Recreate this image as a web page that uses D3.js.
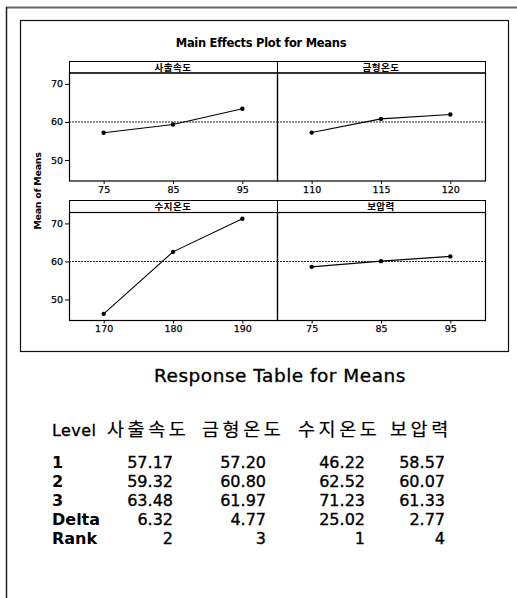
<!DOCTYPE html>
<html><head><meta charset="utf-8">
<script src="https://cdn.jsdelivr.net/npm/d3@7"></script>
<style>
html,body{margin:0;padding:0;background:#fff;}
svg{display:block;}
</style></head>
<body>
<svg id="c" width="517" height="598"></svg>
<script>
// ---- data ----
const chartTitle = "Main Effects Plot for Means";
const yLabel = "Mean of Means";
const tableTitle = "Response Table for Means";
const factors = ["사출속도", "금형온도", "수지온도", "보압력"];
const levels1 = [75, 85, 95];
const levels2 = [110, 115, 120];
const levels3 = [170, 180, 190];
const levels4 = [75, 85, 95];
const means1 = [57.17, 59.32, 63.48];
const means2 = [57.20, 60.80, 61.97];
const means3 = [46.22, 62.52, 71.23];
const means4 = [58.57, 60.07, 61.33];
const deltas = [6.32, 4.77, 25.02, 2.77];
const ranks = [2, 3, 1, 4];
const yTicks = [50, 60, 70];
const rowLabels = ["1", "2", "3", "Delta", "Rank"];

const levelSets = [levels1, levels2, levels3, levels4];
const meanSets = [means1, means2, means3, means4];

const svg = d3.select("#c");
const F = "'DejaVu Sans', Verdana, sans-serif";
const K = "'Noto Sans CJK KR', 'DejaVu Sans', sans-serif";

// outer frame
svg.append("line").attr("x1",6).attr("y1",7.5).attr("x2",517).attr("y2",7.5).attr("stroke","#666").attr("stroke-width",2);
svg.append("line").attr("x1",6.5).attr("y1",7).attr("x2",6.5).attr("y2",598).attr("stroke","#222").attr("stroke-width",1.5);

// chart frame
svg.append("rect").attr("x",20.5).attr("y",20.5).attr("width",488).attr("height",331)
  .attr("fill","#fff").attr("stroke","#111").attr("stroke-width",1.2);

svg.append("text").attr("x",261).attr("y",46.5).attr("text-anchor","middle")
  .attr("font-family",F).attr("font-weight","bold").attr("font-size",11.5).attr("letter-spacing",-0.3).text(chartTitle);

svg.append("text").attr("transform","translate(41,191) rotate(-90)").attr("text-anchor","middle")
  .attr("font-family",F).attr("font-weight","bold").attr("font-size",9.5).attr("letter-spacing",-0.3).text(yLabel);

const panelX = [69, 277, 69, 277];
const panelW = 208;
const rows = [{stripTop:61, top:72.5, bottom:180.5}, {stripTop:200, top:212, bottom:320}];
const overallMean = d3.mean(means1);

rows.forEach((r, ri) => {
  const y = d3.scaleLinear().domain([44.6, 73.0]).range([r.bottom, r.top]);
  const ya = svg.append("g").attr("transform", `translate(${panelX[0]},0)`)
    .call(d3.axisLeft(y).tickValues(yTicks).tickSize(4).tickPadding(2));
  ya.select(".domain").remove();
  ya.selectAll("text").attr("font-family",F).attr("font-size",9.5).attr("fill","#000").attr("stroke","#000").attr("stroke-width",0.25);
  ya.selectAll("line").attr("stroke","#000");
  for (let c = 0; c < 2; c++) {
    const i = ri*2 + c;
    const x0 = panelX[i];
    const x = d3.scalePoint().domain(levelSets[i]).range([x0, x0 + panelW]).padding(0.5);
    svg.append("rect").attr("x",x0+0.5).attr("y",r.stripTop+0.5).attr("width",panelW).attr("height",r.top-r.stripTop)
      .attr("fill","#fff").attr("stroke","#000").attr("stroke-width",1);
    svg.append("text").attr("x",x0+panelW/2).attr("y",r.stripTop+9.5).attr("text-anchor","middle")
      .attr("font-family",K).attr("font-weight","bold").attr("font-size",9.5).attr("letter-spacing",0.5).text(factors[i]);
    svg.append("rect").attr("x",x0+0.5).attr("y",r.top+0.5).attr("width",panelW).attr("height",r.bottom-r.top)
      .attr("fill","none").attr("stroke","#000").attr("stroke-width",1.2);
    svg.append("line").attr("x1",x0).attr("x2",x0+panelW).attr("y1",y(overallMean)).attr("y2",y(overallMean))
      .attr("stroke","#222").attr("stroke-width",1).attr("stroke-dasharray","2,1");
    const xa = svg.append("g").attr("transform",`translate(0,${r.bottom+0.5})`)
      .call(d3.axisBottom(x).tickSize(3).tickPadding(2));
    xa.select(".domain").remove();
    xa.selectAll("text").attr("font-family",F).attr("font-size",9.5).attr("fill","#000").attr("stroke","#000").attr("stroke-width",0.25);
    xa.selectAll("line").attr("stroke","#000");
    const pts = levelSets[i].map((lv, k) => [x(lv), y(meanSets[i][k])]);
    svg.append("path").attr("d", d3.line()(pts)).attr("fill","none").attr("stroke","#000").attr("stroke-width",1.1);
    svg.selectAll(null).data(pts).enter().append("circle")
      .attr("cx",d=>d[0]).attr("cy",d=>d[1]).attr("r",2.2).attr("fill","#000");
  }
});

// ---- response table ----
const T = svg.append("g").attr("fill","#000").attr("stroke","#000").attr("stroke-width",0.35);
T.append("text").attr("x",280).attr("y",382).attr("text-anchor","middle")
  .attr("font-family",F).attr("font-size",18.5).attr("letter-spacing",0.5).text(tableTitle);

const headY = 436;
T.append("text").attr("x",52).attr("y",headY).attr("font-family",F).attr("font-size",16).attr("letter-spacing",0.4).text("Level");
const headX = [107, 202, 298, 390];
factors.forEach((f,i) => {
  T.append("text").attr("x",headX[i]).attr("y",headY).attr("font-family",K).attr("font-size",18.5)
    .attr("stroke-width",0.2).attr("letter-spacing",3.6).text(f);
});

const colRight = [173, 266, 365, 445];
const rowY = [468, 487, 506, 525, 544];
rowLabels.forEach((lab, ri) => {
  T.append("text").attr("x",52).attr("y",rowY[ri]).attr("font-family",F).attr("font-size",16)
    .attr("font-weight", "bold").attr("stroke-width",0).text(lab);
  for (let c = 0; c < 4; c++) {
    let v;
    if (ri < 3) v = meanSets[c][ri].toFixed(2);
    else if (ri === 3) v = deltas[c].toFixed(2);
    else v = String(ranks[c]);
    T.append("text").attr("x",colRight[c]).attr("y",rowY[ri]).attr("text-anchor","end")
      .attr("font-family",F).attr("font-size",16).text(v);
  }
});
</script>
</body></html>
